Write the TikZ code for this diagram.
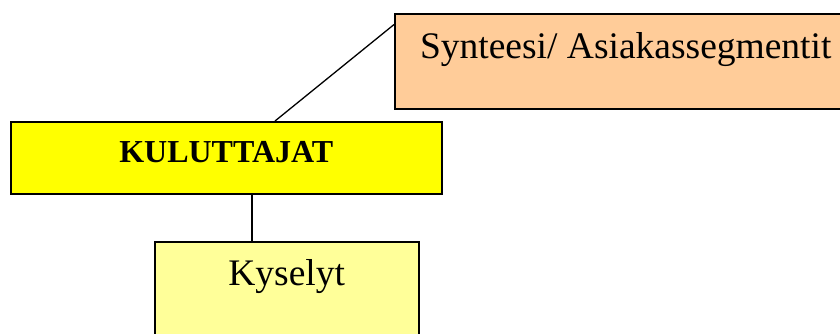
\documentclass[tikz,border=0pt]{standalone}
\usepackage{fontspec}
\setmainfont{Liberation Serif}
\usepackage{xcolor}
\usepackage{tikz}
\usetikzlibrary{positioning}

\definecolor{peach}{HTML}{FFCC99}
\definecolor{brightyellow}{HTML}{FFFF00}
\definecolor{paleyellow}{HTML}{FFFF99}

\begin{document}
\begin{tikzpicture}[
    x=1pt, y=-1pt,
    box/.style={rectangle, draw=black, line width=1.5pt, inner xsep=0pt, inner ysep=0pt, anchor=north west, align=center},
    link/.style={line width=1.3pt},
]
\useasboundingbox (0,0) rectangle (840,333);

% Synthesis box, top right
\node[box, fill=peach, minimum width=462pt, text height=45pt, text depth=50pt] (synteesi) at (394,13)
    {\fontsize{37.5}{40}\selectfont Synteesi/ Asiakassegmentit};

% Consumers
\node[box, fill=brightyellow, minimum width=431pt, text height=41pt, text depth=31pt] (kuluttajat) at (10,121)
    {\fontsize{32}{36}\selectfont\bfseries KULUTTAJAT};

% Surveys, below
\node[box, fill=paleyellow, minimum width=264pt, text height=44pt, text depth=75pt] (kyselyt) at (154,241)
    {\fontsize{37.5}{40}\selectfont Kyselyt};

\draw[link] (kuluttajat.37) -- (synteesi.171.6);
\draw[link] (kuluttajat.-55.8) -- (kuluttajat.-55.8 |- kyselyt.north);

\end{tikzpicture}
\end{document}
